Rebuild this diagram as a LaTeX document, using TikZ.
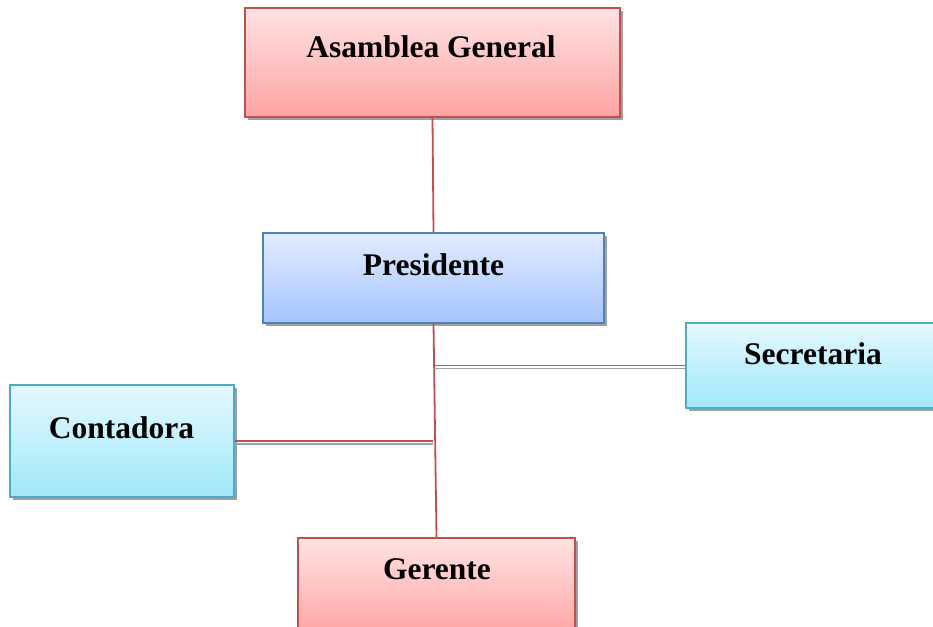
\documentclass[tikz,border=0pt]{standalone}
\usepackage{fontspec}
\setmainfont{Liberation Serif}
\usetikzlibrary{shadows}
\definecolor{redline}{HTML}{C0504D}
\definecolor{bluline}{HTML}{4F81BD}
\definecolor{cyanline}{HTML}{4BACC6}
\definecolor{shadowgray}{HTML}{A0A0A0}
\definecolor{redtop}{HTML}{FFE2E2}
\definecolor{redbot}{HTML}{FFA3A3}
\definecolor{blutop}{HTML}{E2ECFF}
\definecolor{blubot}{HTML}{A5C4FF}
\definecolor{cyantop}{HTML}{E5F8FF}
\definecolor{cyanbot}{HTML}{A0E8FA}
\tikzset{
  box/.style={draw, line width=1.6pt, inner sep=0pt, rectangle,
    drop shadow={shadow xshift=3pt, shadow yshift=-3pt, fill=shadowgray, opacity=1}},
  redbox/.style={box, draw=redline, top color=redtop, bottom color=redbot},
  bluebox/.style={box, draw=bluline, top color=blutop, bottom color=blubot},
  cyanbox/.style={box, draw=cyanline, top color=cyantop, bottom color=cyanbot},
  lbl/.style={anchor=base, inner sep=0pt, font=\fontsize{31.5}{36}\selectfont\bfseries},
  link/.style={draw=redline, line width=1.8pt},
  linkshadow/.style={draw=shadowgray, line width=1.8pt},
}
\begin{document}
\begin{tikzpicture}[x=1pt, y=-1pt]
\useasboundingbox (0,0) rectangle (933,626);
\clip (0,0) rectangle (933,626);
% boxes
\node[redbox, minimum width=375pt, minimum height=109pt] (ag) at (432.5,62.5) {};
\node[bluebox, minimum width=341pt, minimum height=90pt] (pres) at (433.5,278) {};
\node[cyanbox, minimum width=276pt, minimum height=85pt] (sec) at (824,365.5) {};
\node[cyanbox, minimum width=224pt, minimum height=112pt] (cont) at (122,441) {};
\node[redbox, minimum width=277pt, minimum height=100pt] (ger) at (436.5,588) {};
% labels
\node[lbl] (agt) at (431,58) {Asamblea General};
\node[lbl] (prest) at (433.5,275) {Presidente};
\node[lbl] (sect) at (813,364) {Secretaria};
\node[lbl] (contt) at (121.5,438) {Contadora};
\node[lbl] (gert) at (437,579) {Gerente};
% connectors
\draw[link] (ag.south) -- (pres.north);
\draw[link] (pres.south) -- (ger.north);
\draw[linkshadow] ([yshift=-3pt]sec.west) -- ([yshift=-3pt]sec.west -| ag.south);
\draw[link] (sec.west) -- (sec.west -| ag.south);
\draw[linkshadow] ([yshift=-3pt]cont.east) -- ([yshift=-3pt]cont.east -| ag.south);
\draw[link] (cont.east) -- (cont.east -| ag.south);
\end{tikzpicture}
\end{document}
